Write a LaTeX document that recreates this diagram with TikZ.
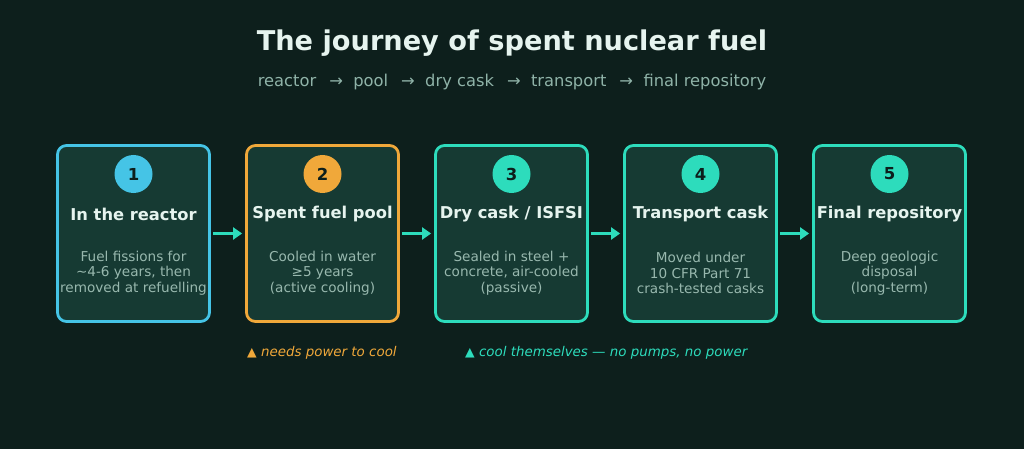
\documentclass[tikz,border=0pt]{standalone}
\usepackage{fontspec}
\setmainfont{DejaVu Sans}
\usetikzlibrary{arrows.meta}
\definecolor{bg}{HTML}{0D1F1C}
\definecolor{boxfill}{HTML}{163A33}
\definecolor{cblue}{HTML}{45C4E6}
\definecolor{corange}{HTML}{F0A83A}
\definecolor{cteal}{HTML}{2DDCBC}
\definecolor{titlec}{HTML}{E6F4EF}
\definecolor{subc}{HTML}{8FB3A8}
\definecolor{descc}{HTML}{98B8AE}
\definecolor{numc}{HTML}{0D1F1C}
\tikzset{
  stagebox/.style={draw=#1, line width=2.8pt, fill=boxfill, rounded corners=9pt,
    minimum width=152pt, minimum height=176pt, inner sep=0pt},
  numdot/.style={circle, fill=#1, minimum size=38pt, inner sep=0pt,
    font=\fontsize{16.5}{19}\selectfont\bfseries, text=numc},
  stagetitle/.style={font=\fontsize{16.3}{19}\selectfont\bfseries, text=titlec, inner sep=0pt},
  stagedesc/.style={font=\fontsize{13.6}{15.6}\selectfont, text=descc, align=center, inner sep=0pt},
  flowarrow/.style={draw=cteal, line width=3.5pt, -{Triangle[length=9pt,width=12pt]}},
  legendtext/.style={anchor=west, font=\fontsize{13.4}{15}\selectfont\itshape, text=#1, inner sep=0pt},
}
\begin{document}
\begin{tikzpicture}[x=1pt,y=-1pt]
\useasboundingbox[fill=bg] (0,0) rectangle (1024,449);
\node[font=\fontsize{27.2}{31}\selectfont\bfseries, text=titlec] (title) at (512,43) {The journey of spent nuclear fuel};
\node[font=\fontsize{16.3}{19}\selectfont, text=subc] (sub) at (512,82) {reactor \ \,→\ \ pool \ \,→\ \ dry cask \ \,→\ \ transport \ \,→\ \ final repository};

\foreach \i/\c/\t/\d in {
  1/cblue/{In the reactor}/{Fuel fissions for\\\textasciitilde4-6 years, then\\removed at refuelling},
  2/corange/{Spent fuel pool}/{Cooled in water\\≥5 years\\(active cooling)},
  3/cteal/{Dry cask {/} ISFSI}/{Sealed in steel +\\concrete, air-cooled\\(passive)},
  4/cteal/{Transport cask}/{Moved under\\10 CFR Part 71\\crash-tested casks},
  5/cteal/{Final repository}/{Deep geologic\\disposal\\(long-term)}} {
  \pgfmathsetmacro{\cx}{133.5+189*(\i-1)}
  \node[stagebox=\c] (b\i) at (\cx,233.5) {};
  \node[numdot=\c] (n\i) at (\cx,174) {\i};
  \node[stagetitle] (t\i) at (\cx,214) {\t};
  \node[stagedesc] (d\i) at (\cx,273) {\d};
}
\foreach \a/\b in {1/2,2/3,3/4,4/5} {
  \draw[flowarrow] ([xshift=2pt]b\a.east) -- ([xshift=-3pt]b\b.west);
}
\node[legendtext=corange] (l1) at (247,353) {{\upshape\fontsize{12.5}{13}\selectfont▲} needs power to cool};
\node[legendtext=cteal] (l2) at (465,353) {{\upshape\fontsize{12.5}{13}\selectfont▲} cool themselves — no pumps, no power};
\end{tikzpicture}
\end{document}
